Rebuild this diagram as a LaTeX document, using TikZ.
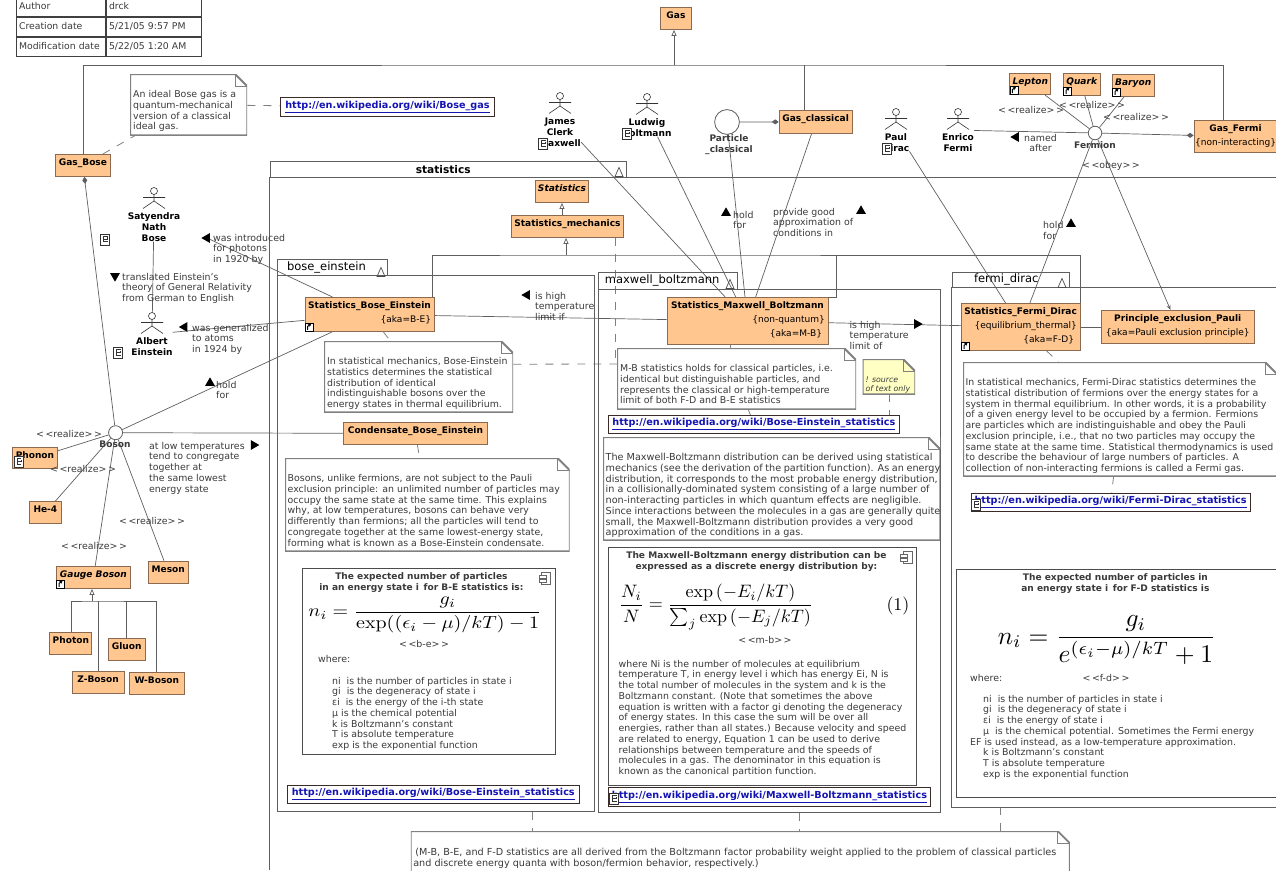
\documentclass[tikz,border=0pt]{standalone}
\usepackage[no-math]{fontspec}
\setmainfont{DejaVu Sans}
\usetikzlibrary{arrows.meta,backgrounds,matrix,shapes.geometric}

\definecolor{classfill}{HTML}{FFC78F}
\definecolor{classedge}{HTML}{8A6A50}
\definecolor{lineedge}{HTML}{5F5F5F}
\definecolor{noteedge}{HTML}{808080}
\definecolor{notefill}{HTML}{FFFFC4}
\definecolor{linktext}{HTML}{1414B4}
\definecolor{linkedge}{HTML}{3A2A2A}
\definecolor{notetext}{HTML}{3A3A3A}

\newcommand{\notefont}{\fontsize{9.4}{10.75}\selectfont}
\newcommand{\widefont}{\fontsize{9.65}{10.75}\selectfont}
\newcommand{\titlefont}{\fontsize{9.05}{10.75}\selectfont\bfseries}
% box text: width, height, first baseline, then the lines
\newcommand{\cbox}[4]{\parbox[c][#2pt][t]{#1pt}{\centering\rule{0pt}{#3pt}#4}}
\newcommand{\lbox}[5]{\parbox[c][#2pt][t]{#1pt}{\leftskip=#4pt\rule{0pt}{#3pt}#5}}
\newcommand{\tagline}[1]{\makebox[\linewidth][r]{\mdseries #1\hspace{3pt}}}
\newcommand{\midline}[1]{\makebox[\linewidth][c]{#1}}
\newcommand{\titleline}[2]{\makebox[#1pt][c]{\titlefont #2}}
\newcommand{\linkurl}[1]{\underline{#1}}

\tikzset{
	classbox/.style={draw=classedge,fill=classfill,line width=.9pt,inner sep=0pt,anchor=north west,font=\titlefont},
	abstractbox/.style={classbox,font=\titlefont\itshape},
	notebox/.style={fill=white,inner sep=0pt,anchor=north west,font=\notefont,text=notetext,
		path picture={
			\fill[white] ([xshift=-12pt]path picture bounding box.north east) -- (path picture bounding box.north east) -- ([yshift=-12pt]path picture bounding box.north east) -- cycle;
			\draw[noteedge,line width=1.8pt] (path picture bounding box.north west) -- ([xshift=-12pt]path picture bounding box.north east) -- ([yshift=-12pt]path picture bounding box.north east) -- (path picture bounding box.south east) -- (path picture bounding box.south west) -- cycle;
			\draw[noteedge,line width=.9pt] ([xshift=-12pt]path picture bounding box.north east) -- ([xshift=-12pt,yshift=-12pt]path picture bounding box.north east) -- ([yshift=-12pt]path picture bounding box.north east);
		}},
	linkbox/.style={draw=linkedge,fill=white,line width=.9pt,inner sep=0pt,anchor=north west,text=linktext,font=\fontsize{9.65}{10.75}\selectfont\bfseries},
	framebox/.style={draw=black!70,fill=white,line width=.8pt,inner sep=0pt,anchor=north west,font=\notefont,text=notetext},
	pkgbox/.style={draw=lineedge,line width=.9pt,inner sep=0pt,anchor=north west},
	pkgtab/.style={pkgbox,font=\fontsize{11.5}{13}\selectfont},
	actor/.style={align=center,inner sep=0pt,anchor=north,font=\titlefont},
	iface/.style={circle,draw=lineedge,fill=white,line width=.8pt,inner sep=0pt},
	plain/.style={align=left,inner sep=0pt,anchor=north west,font=\notefont,text=notetext},
	stereo/.style={inner sep=0pt,font=\notefont,text=notetext},
	dirmark/.style={isosceles triangle,isosceles triangle apex angle=60,fill=black,inner sep=0pt,minimum height=8.5pt,minimum width=9.5pt},
	assoc/.style={draw=lineedge,line width=.7pt},
	genline/.style={draw=lineedge,line width=.7pt},
	gentip/.style={genline,-{Triangle[fill=white,length=6pt,width=5pt]}},
	wholetip/.style={assoc,-{Diamond[length=7pt,width=5pt]}},
	opentip/.style={assoc,-{Stealth[length=5pt,width=4pt]}},
	notelink/.style={draw=noteedge,line width=.8pt,dash pattern=on 8pt off 8pt},
	shortcuticon/.pic={
		\draw[black,fill=white,line width=.6pt] (-4,-4) rectangle (4,4);
		\draw[black,line width=1pt,-{Stealth[length=3pt,width=3.5pt]}] (-1.5,3) -- (-1.5,-.5) -- (2,-3);
	},
	docicon/.pic={
		\draw[black!80,fill=white,line width=.6pt] (-4.5,-5.5) rectangle (4.5,5.5);
		\draw[black!80,line width=.7pt] (2.5,-3.5) -- (-1.5,-3.5) -- (-1.5,2) -- (2.5,2) (-1.5,-.5) -- (2.5,-.5) -- (2.5,-2.5);
	},
	compicon/.pic={
		\draw[black!60,fill=white,line width=.6pt] (-3.5,-6) rectangle (5.5,6);
		\draw[black!60,fill=white,line width=.6pt] (-6,-3.5) rectangle (1,-.5) (-6,1) rectangle (1,4);
	},
	tabicon/.pic={
		\draw[black!70,line width=.7pt] (-4,4.5) -- (0,-4.5) -- (4,4.5) -- cycle;
	},
	stickman/.pic={
		\draw[black!80,line width=.6pt] (0,3.5) circle (3.5pt) (0,7) -- (0,13.5) (-11,10) -- (11,10) (-11,21) -- (0,13.5) -- (11,21);
	},
}

\begin{document}
\begin{tikzpicture}[x=1pt,y=-1pt]
	\useasboundingbox (0,0) rectangle (1276,870);

	% document info table
	\matrix (info) at (12,-6.5) [matrix of nodes,anchor=north west,
	column sep=0pt,
	row sep=0pt,
	nodes={draw=black!75,line width=1pt,outer sep=0pt,inner xsep=3pt,inner ysep=5pt,text height=7pt,text depth=2pt,font=\fontsize{9.3}{10}\selectfont,text=notetext,anchor=center},
	column 1/.style={nodes={text width=83pt}},
	column 2/.style={nodes={text width=89.5pt}}]{
		Author & drck \\
		Creation date & 5/21/05 9:57 PM \\
		Modification date & 5/22/05 1:20 AM \\
	};

	% packages
	\draw[genline,line width=.9pt] (1276,177) -- (269.5,177) -- (269.5,870);
	\node[pkgtab,minimum width=356.5pt,minimum height=16.5pt,font=\fontsize{10.6}{13}\selectfont\bfseries] (tabstat) at (269.5,160.5) {\hspace*{-10pt}statistics};
	\node[pkgtab,minimum width=110pt,minimum height=16pt] (tabbe) at (277,259) {\hspace*{-12pt}bose\_einstein};
	\node[pkgbox,minimum width=316.5pt,minimum height=536pt] (pkgbe) at (277,275) {};
	\node[pkgtab,minimum width=138.5pt,minimum height=17pt] (tabmb) at (598,272) {\hspace*{-11pt}maxwell\_boltzmann};
	\node[pkgbox,minimum width=341.5pt,minimum height=523pt] (pkgmb) at (598,289) {};
	\node[pkgtab,minimum width=117.5pt,minimum height=15pt] (tabfd) at (951.5,272) {\hspace*{-9pt}fermi\_dirac};
	\draw[genline,line width=.9pt] (1276,287) -- (951.5,287) -- (951.5,807) -- (1276,807);
	\coordinate (fdfoot) at (1000,807);
	\foreach \i/\x/\y in {stat/619/172,be/381/272,mb/730/284,fd/1062/283}{
		\pic at (\x,\y) {tabicon};
	}

	% classes
	\foreach \nm/\x/\y/\w/\h/\txt in {
		gas/660/7/31/22/Gas,
		gasbose/55/154/55/22/Gas\_Bose,
		gasclassical/778.7/110/73/22.7/Gas\_classical,
		statmech/511/215/112/22/Statistics\_mechanics,
		condensate/343/422/144/22/Condensate\_Bose\_Einstein,
		phonon/12/447/45/21/Phonon,
		hefour/28.7/501/32.5/22/He-4,
		meson/147.7/560.7/40.3/22/Meson,
		photon/49.4/632/42/22/Photon,
		gluon/108/638/36.6/22/Gluon,
		zboson/71.6/671/52/22/Z-Boson,
		wboson/129/672/54.7/22/W-Boson}{
		\node[classbox] (\nm) at (\x,\y) {\cbox{\w}{\h}{11.5}{\txt}};
	}
	\foreach \nm/\x/\y/\w/\h/\txt in {
		statistics/535/180/53/22/Statistics,
		lepton/1009.4/72.7/41/21.5/Lepton,
		quark/1063/73/36.5/22/Quark,
		baryon/1112/74/41.5/22/Baryon,
		gauge/56/566/74/22/Gauge Boson}{
		\node[abstractbox] (\nm) at (\x,\y) {\cbox{\w}{\h}{11.5}{\txt}};
	}
	\node[classbox] (gasfermi) at (1193.6,120) {\cbox{83}{32}{11.5}{Gas\_Fermi\\[3.2pt]\midline{\mdseries\{non-interacting\}}}};
	\node[classbox] (sbe) at (304.6,297) {\cbox{129}{34}{11.5}{\midline{Statistics\_Bose\_Einstein}\\[3.2pt]\tagline{\{aka=B-E\}}}};
	\node[classbox] (smb) at (666.5,297) {\cbox{161}{47}{11.5}{\midline{Statistics\_Maxwell\_Boltzmann}\\[3.2pt]\tagline{\{non-quantum\}}\\[3.2pt]\tagline{\{aka=M-B\} }}};
	\node[classbox] (sfd) at (961,303) {\cbox{118.5}{47}{11.5}{\midline{Statistics\_Fermi\_Dirac}\\[3.2pt]\tagline{\{equilibrium\_thermal\}}\\[3.2pt]\tagline{\{aka=F-D\} }}};
	\node[classbox] (pauli) at (1101,310) {\cbox{152.5}{33}{11.5}{\midline{Principle\_exclusion\_Pauli}\\[3.2pt]\midline{\mdseries\{aka=Pauli exclusion principle\}}}};

	% actors
	\foreach \nm/\x/\y/\txt in {
		satyendra/154/187.5/Satyendra\\Nath\\Bose,
		einstein/152/312.5/Albert\\Einstein,
		maxwell/560/92.5/James\\Clerk\\Maxwell,
		boltzmann/647/93.5/Ludwig\\Boltmann,
		dirac/896/108.5/Paul\\Dirac,
		fermi/958/108.5/Enrico\\Fermi}{
		\node[actor] (\nm) at (\x,\y) {\rule{0pt}{32pt}\txt};
		\pic at (\nm.north) {stickman};
	}

	% interfaces
	\node[iface,minimum size=24.8pt] (particle) at (727,122) {};
	\node[stereo,actor] (particlename) at (729,134.5) {Particle\\\_classical};
	\node[iface,minimum size=13.5pt] (fermion) at (1095,133) {};
	\node[stereo,font=\titlefont] (fermionname) at (1095,145) {Fermion};
	\node[iface,minimum size=14pt] (boson) at (115.6,432.7) {};
	\node[stereo,font=\titlefont] (bosonname) at (115,444) {Boson};

	% notes
	\node[notebox] (notegas) at (130,74) {\lbox{117}{61}{23.5}{3}{An ideal Bose gas is a\\quantum-mechanical\\version of a classical\\ideal gas.}};
	\node[notebox] (notebe) at (324,341) {\lbox{189}{71}{23.5}{3}{In statistical mechanics, Bose-Einstein\\statistics determines the statistical\\distribution of identical\\indistinguishable bosons over the\\energy states in thermal equilibrium.}};
	\node[notebox] (noteboson) at (285,458) {\lbox{284.5}{93}{23.5}{2.5}{Bosons, unlike fermions, are not subject to the Pauli\\exclusion principle: an unlimited number of particles may\\occupy the same state at the same time. This explains\\why, at low temperatures, bosons can behave very\\differently than fermions; all the particles will tend to\\congregate together at the same lowest-energy state,\\forming what is known as a Bose-Einstein condensate.}};
	\node[notebox] (notemb) at (617,348) {\lbox{239}{61}{23.5}{3}{M-B statistics holds for classical particles, i.e.\\identical but distinguishable particles, and\\represents the classical or high-temperature\\limit of both F-D and B-E statistics}};
	\node[notebox,fill=notefill,font=\fontsize{7.8}{9.5}\selectfont\itshape] (notesource) at (862.5,359) {\lbox{52.5}{35}{23}{3}{! source\\of text only}};
	\node[notebox,font=\widefont] (notemaxwell) at (603,437) {\lbox{337}{103}{23.5}{2.5}{The Maxwell-Boltzmann distribution can be derived using statistical\\mechanics (see the derivation of the partition function). As an energy\\distribution, it corresponds to the most probable energy distribution,\\in a collisionally-dominated system consisting of a large number of\\non-interacting particles in which quantum effects are negligible.\\Since interactions between the molecules in a gas are generally quite\\small, the Maxwell-Boltzmann distribution provides a very good\\approximation of the conditions in a gas.}};
	\node[notebox] (notefd) at (963,362) {\lbox{314}{114}{23.5}{2.5}{In statistical mechanics, Fermi-Dirac statistics determines the\\statistical distribution of fermions over the energy states for a\\system in thermal equilibrium. In other words, it is a probability\\of a given energy level to be occupied by a fermion. Fermions\\are particles which are indistinguishable and obey the Pauli\\exclusion principle, i.e., that no two particles may occupy the\\same state at the same time. Statistical thermodynamics is used\\to describe the behaviour of large numbers of particles. A\\collection of non-interacting fermions is called a Fermi gas.}};
	\node[notebox,font=\widefont] (notefoot) at (410.6,831) {\lbox{659}{46}{24.5}{2.5}{\hspace*{2pt}(M-B, B-E, and F-D statistics are all derived from the Boltzmann factor probability weight applied to the problem of classical particles\\and discrete energy quanta with boson/fermion behavior, respectively.)}};

	% links
	\node[linkbox,minimum width=214pt,minimum height=19pt] (linkgas) at (280,97) {\linkurl{http://en.wikipedia.org/wiki/Bose\_gas}};
	\node[linkbox,minimum width=291pt,minimum height=18pt] (linkmid) at (608,415) {\linkurl{http://en.wikipedia.org/wiki/Bose-Einstein\_statistics}};
	\node[linkbox,minimum width=291.6pt,minimum height=18pt] (linkbe) at (287,785) {\linkurl{http://en.wikipedia.org/wiki/Bose-Einstein\_statistics}};
	\node[linkbox,minimum width=322pt,minimum height=19pt] (linkmb) at (608,787) {\linkurl{http://en.wikipedia.org/wiki/Maxwell-Boltzmann\_statistics}};
	\node[linkbox,minimum width=279pt,minimum height=18pt] (linkfd) at (970.6,493) {\linkurl{http://en.wikipedia.org/wiki/Fermi-Dirac\_statistics}};

	% formula frames
	\node[framebox] (framebe) at (302,568) {\lbox{252.5}{186}{11.5}{0}{\titleline{238}{The expected number of particles}\\\titleline{238}{in an energy state i\, for B-E statistics is:}}};
	\node[framebox] (framemb) at (608,547) {\lbox{308}{238}{11.5}{0}{\titleline{296}{The Maxwell-Boltzmann energy distribution can be}\\\titleline{296}{expressed as a discrete energy distribution by:}}};
	\node[framebox] (framefd) at (956,569) {\lbox{340}{228}{11.5}{0}{\titleline{318}{The expected number of particles in}\\\titleline{318}{an energy state i\, for F-D statistics is}}};
	\node[inner sep=0pt] (eqbe) at (425,615) {\scalebox{2}[1.75]{$\displaystyle n_i=\frac{g_i}{\exp((\epsilon_i-\mu)/kT)-1}$}};
	\node[inner sep=0pt] (eqmb) at (716,607) {\scalebox{1.8}{$\displaystyle\frac{N_i}{N}=\frac{\exp\left(-E_i/kT\right)}{\sum_j\exp\left(-E_j/kT\right)}$}};
	\node[inner sep=0pt] (eqmbnum) at (898,606) {\scalebox{1.8}{$(1)$}};
	\node[inner sep=0pt] (eqfd) at (1107,640) {\scalebox{2.55}{$\displaystyle n_i=\frac{g_i}{e^{(\epsilon_i-\mu)/kT}+1}$}};
	\node[stereo] (stbe) at (424,644) {<\,<b-e>\,>};
	\node[stereo] (stmb) at (765,640) {<\,<m-b>\,>};
	\node[stereo] (stfd) at (1106,678) {<\,<f-d>\,>};

	\node[plain] (wherebe) at (318,654.8) {where:};
	\node[plain] (listbe) at (332,676.8) {ni~~is the number of particles in state i\\gi~~is the degeneracy of state i\\εi~~is the energy of the i-th state\\μ is the chemical potential\\k is Boltzmann's constant\\T is absolute temperature\\exp is the exponential function};
	\node[plain] (textmb) at (618.5,659.8) {where Ni is the number of molecules at equilibrium\\temperature T, in energy level i which has energy Ei, N is\\the total number of molecules in the system and k is the\\Boltzmann constant. (Note that sometimes the above\\equation is written with a factor gi denoting the degeneracy\\of energy states. In this case the sum will be over all\\energies, rather than all states.) Because velocity and speed\\are related to energy, Equation 1 can be used to derive\\relationships between temperature and the speeds of\\molecules in a gas. The denominator in this equation is\\known as the canonical partition function.};
	\node[plain] (wherefd) at (970,673.8) {where:};
	\node[plain] (listfd) at (970,694.8) {\hspace*{13pt}ni~~is the number of particles in state i\\\hspace*{13pt}gi~~is the degeneracy of state i\\\hspace*{13pt}εi~~is the energy of state i\\\hspace*{13pt}μ~~is the chemical potential. Sometimes the Fermi energy\\EF is used instead, as a low-temperature approximation.\\\hspace*{13pt}k is Boltzmann's constant\\\hspace*{13pt}T is absolute temperature\\\hspace*{13pt}exp is the exponential function};

	% association labels
	\node[plain] (lblphotons) at (213,233.8) {was introduced\\for photons\\in 1920 by};
	\node[plain] (lbltranslated) at (122,272.8) {translated Einstein's\\theory of General Relativity\\from German to English};
	\node[plain] (lblatoms) at (192,323.8) {was generalized\\to atoms\\in 1924 by};
	\node[plain] (lblholdboson) at (216,380.8) {hold\\for};
	\node[plain] (lbllow) at (149,441.8) {at low temperatures\\tend to congregate\\together at\\the same lowest\\energy state};
	\node[plain] (lblhighif) at (535,291.8) {is high\\temperature\\limit if};
	\node[plain] (lblhighof) at (849.4,320.8) {is high\\temperature\\limit of};
	\node[plain] (lblholdmb) at (733,210.8) {hold\\for};
	\node[plain] (lblprovide) at (773,207.8) {provide good\\approximation of\\conditions in};
	\node[plain] (lblholdfd) at (1043,221.3) {hold\\for};
	\node[plain,align=center] (lblnamed) at (1024,133.8) {named\\after};
	\foreach \nm/\x/\y in {a/69/433.7,b/83/469,c/152/520.7,d/94/546,e/1031/110,f/1092/104.5,g/1136/117}{
		\node[stereo] (real\nm) at (\x,\y) {<\,<realize>\,>};
	}
	\node[stereo] (obeyname) at (1111,166) {<\,<obey>\,>};

	% direction marks
	\foreach \nm/\x/\y/\a in {a/207/238/150,b/115/276/270,c/184.5/327/175,d/210/383/90,e/253.7/445/0,f/527/295/180,g/726/213/85,h/861/211/70,i/1071/224/70,j/917/324/358,k/1016/137/180}{
		\node[dirmark,shape border rotate=\a] (dir\nm) at (\x,\y) {};
	}

	% small icons
	\foreach \n in {sbe,lepton,quark,baryon,gauge,sfd}{
		\pic at ([xshift=4.5pt,yshift=5pt]\n.south west) {shortcuticon};
	}
	\foreach \x/\y in {105/239.5,118/353,543/144,627/134,887/149,18.4/462,976/505,614/799}{
		\pic at (\x,\y) {docicon};
	}
	\foreach \n in {framebe,framemb,framefd}{
		\pic at ([xshift=-10.5pt,yshift=-10.5pt]\n.north east) {compicon};
	}

	% connectors stay under the boxes
	\begin{scope}[on background layer]
		\coordinate (gasbus) at (674,65);
		\draw[genline] (gasbose.north) |- (gasbus) -| ([xshift=-12pt]gasfermi.north);
		\draw[genline] ([xshift=-11pt]gasclassical.north) -- ([xshift=-11pt]gasclassical.north |- gasbus);
		\draw[gentip] (gasbus) -- (gasbus |- gas.south);
		\draw[gentip] (statistics.north |- statmech.north) -- (statistics.north |- statistics.south);
		\coordinate (statbus) at (566,255);
		\coordinate (mbdrop) at (836,255);
		\draw[genline] ([xshift=63pt]sbe.north) |- (statbus) -| (sfd.north east);
		\draw[genline] (mbdrop) |- (smb.north east);
		\draw[gentip] (statbus) -- (statbus |- statmech.south);
		\coordinate (gaugebus) at (92,601);
		\draw[genline] (photon.north) |- (gaugebus) -| (wboson.north);
		\draw[genline] (zboson.north) -- (zboson.north |- gaugebus);
		\draw[genline] (gluon.north) -- (gluon.north |- gaugebus);
		\draw[gentip] (gaugebus) -- (gaugebus |- gauge.south);

		\foreach \from/\to in {satyendra/einstein,einstein/sbe,boson/sbe,boson/condensate,boson/phonon,boson/hefour,boson/gauge,boson/meson,sbe/smb,smb/sfd,sfd/pauli,maxwell/smb,boltzmann/smb,particle/smb,gasclassical/smb,dirac/sfd,fermion/sfd,fermi/fermion,lepton/fermion,quark/fermion,baryon/fermion}{
			\draw[assoc] (\from) -- (\to);
		}
		\draw[assoc] (sbe) -- (dira);
		\draw[wholetip] (boson) -- (gasbose);
		\draw[wholetip] (particle) -- (gasclassical);
		\draw[wholetip] (fermion) -- (gasfermi);
		\draw[opentip] (fermion) -- (pauli);

		\coordinate (mbjoin) at (615,364);
		\draw[notelink] (gasbose) -- (notegas);
		\draw[notelink] (notegas) -- (linkgas);
		\draw[notelink] (sbe) -- (notebe);
		\draw[notelink] (condensate) -- (noteboson);
		\draw[notelink] (statmech.south -| mbjoin) -- (mbjoin);
		\draw[notelink] ([yshift=12.5pt]notebe.east) -- (mbjoin -| notemb.west);
		\draw[notelink] ([xshift=-17pt]smb.south) -- ([xshift=-6pt]notemb.north);
		\draw[notelink] (notemb) -- (linkmid);
		\draw[notelink] (notesource.south) -- (notesource.south |- linkmid.north);
		\draw[notelink] (sfd) -- (notefd);
		\draw[notelink] (notefd) -- (linkfd);
		\draw[notelink] ([xshift=97pt]pkgbe.south) -- ([xshift=97pt]pkgbe.south |- notefoot.north);
		\draw[notelink] ([xshift=30pt]pkgmb.south) -- ([xshift=30pt]pkgmb.south |- notefoot.north);
		\draw[notelink] (fdfoot) -- (fdfoot |- notefoot.north);
	\end{scope}
\end{tikzpicture}
\end{document}
